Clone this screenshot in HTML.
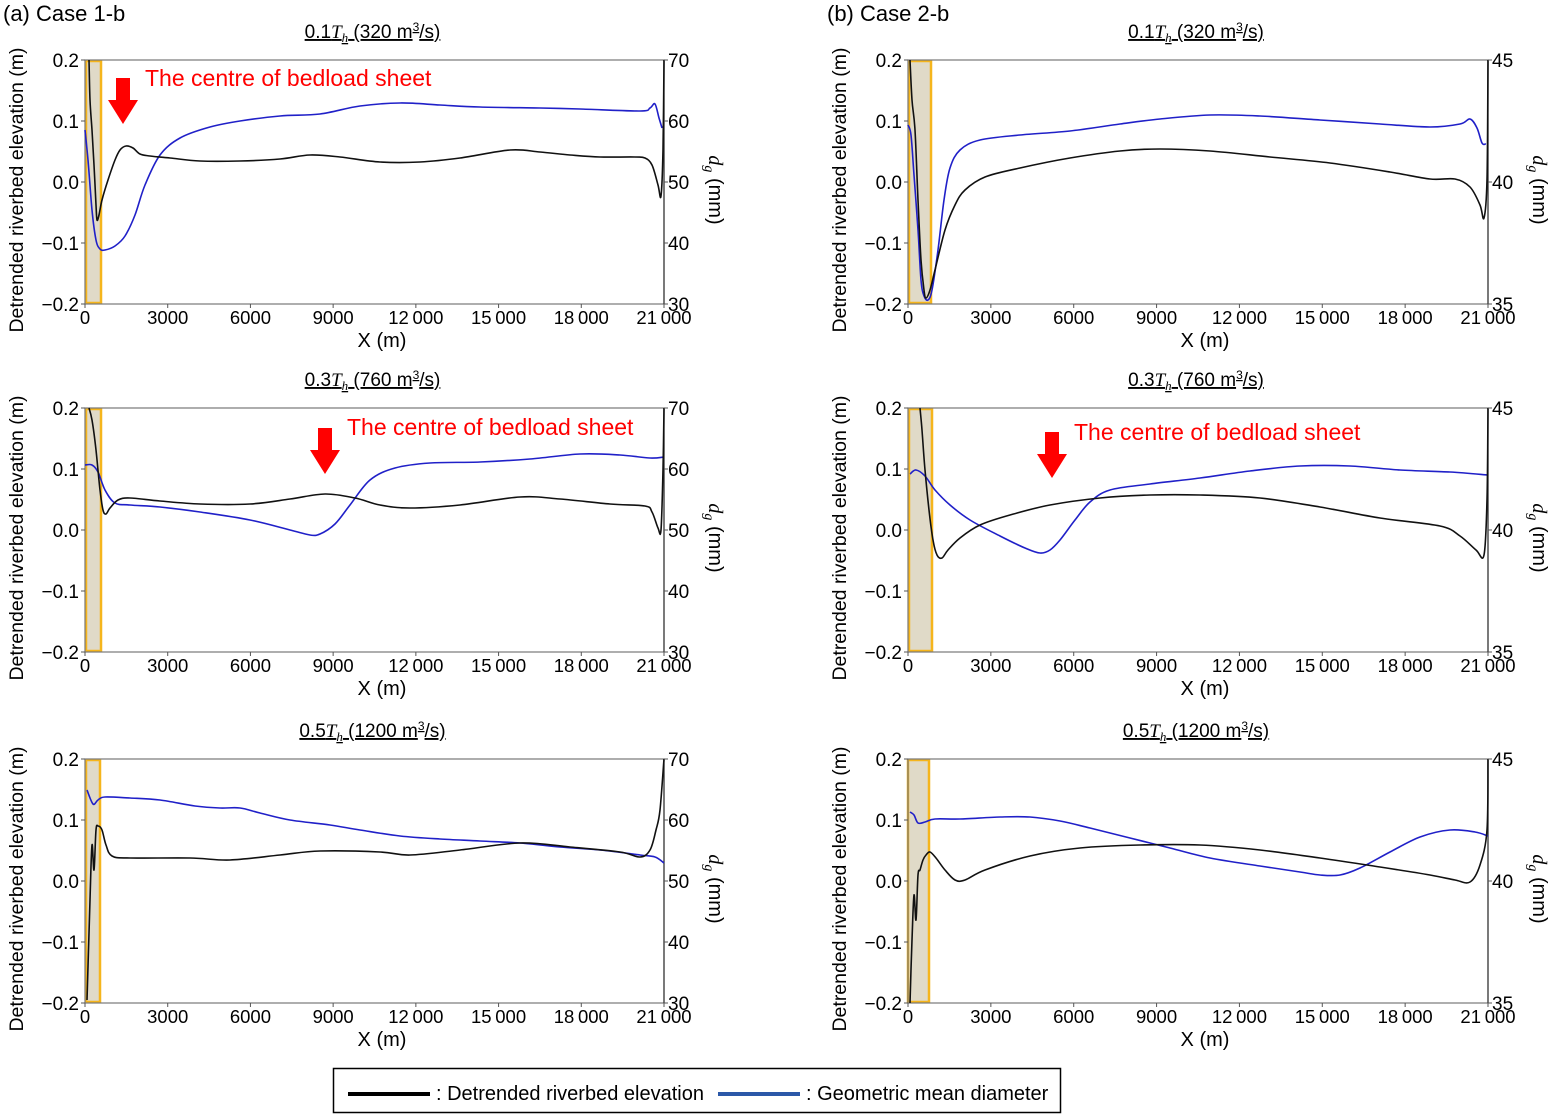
<!DOCTYPE html>
<html><head><meta charset="utf-8"><style>
html,body{margin:0;padding:0;background:#fff;}
svg{display:block;font-family:"Liberation Sans",Arial,sans-serif;}
</style></head><body>
<svg id="s" width="1552" height="1117" viewBox="0 0 1552 1117" xmlns="http://www.w3.org/2000/svg">
<text x="3" y="21" font-size="22">(a) Case 1-b</text>
<text x="827" y="21" font-size="22">(b) Case 2-b</text>
</svg>
<script>
var s=document.getElementById('s');var h='';
var panels=[
 {x0:85,x1:664,y0:60,y1:304,L:1,title:'0.1',q:'320',rect:[86,101],
  k:[[89,60],[90,100],[92,130],[94,165],[96,205],[97,220],[99,215],[102,200],[108,180],[115,160],[120,150],[126,146],[133,148],[140,154],[150,156],[170,158],[200,161],[240,161],[280,159],[310,155],[340,157],[380,162],[420,162],[460,158],[510,150],[540,152],[570,155],[600,157],[635,157],[645,158],[652,165],[658,185],[661,196],[663,150],[664,60]],
  b:[[85,130],[88,160],[92,210],[96,240],[100,249],[105,250],[115,246],[125,236],[135,215],[145,185],[160,155],[180,138],[210,127],[240,121],[280,116],[320,114],[360,106],[400,103],[440,105],[480,107],[540,108],[580,109],[640,111],[650,108],[655,104],[659,118],[662,128]],
  arrow:[123,78],ann:[145,86]},
 {x0:85,x1:664,y0:408,y1:652,L:1,title:'0.3',q:'760',rect:[86,101],
  k:[[89,408],[92,420],[96,450],[100,490],[103,510],[106,514],[110,508],[118,500],[130,498],[160,501],[200,504],[250,504],[290,499],[325,494],[355,498],[380,505],[410,508],[460,505],[520,497],[560,499],[610,504],[645,506],[652,512],[658,528],[661,530],[663,470],[664,408]],
  b:[[85,465],[92,465],[98,472],[105,490],[115,503],[130,505],[160,507],[200,512],[250,520],[290,530],[310,535],[320,534],[335,524],[350,505],[370,480],[395,468],[430,463],[480,462],[530,459],[580,454],[620,455],[650,458],[664,457]],
  arrow:[325,428],ann:[347,435]},
 {x0:85,x1:664,y0:759,y1:1003,L:1,title:'0.5',q:'1200',rect:[86,100],
  k:[[87,1000],[90,900],[92,845],[94,870],[96,830],[98,826],[102,830],[106,845],[112,856],[130,858],[190,858],[230,860],[280,855],[320,851],[380,852],[410,855],[460,850],[520,843],[570,847],[620,852],[640,857],[650,850],[656,830],[660,810],[664,759]],
  b:[[87,790],[93,804],[98,800],[105,797],[130,798],[160,800],[195,806],[220,808],[240,808],[260,813],[290,820],[330,825],[360,830],[400,836],[440,839],[480,841],[520,843],[560,847],[600,850],[640,855],[655,857],[664,863]]},
 {x0:908,x1:1488,y0:60,y1:304,L:0,title:'0.1',q:'320',rect:[909,931],
  k:[[910,60],[912,100],[915,130],[918,200],[921,260],[924,290],[926,298],[930,290],[935,270],[945,230],[955,205],[965,190],[985,177],[1020,168],[1070,158],[1120,151],[1160,149],[1210,151],[1270,157],[1330,163],[1390,172],[1430,179],[1455,179],[1470,187],[1480,205],[1484,218],[1487,180],[1488,60]],
  b:[[908,125],[911,135],[914,175],[918,230],[921,280],[924,296],[928,300],[932,290],[938,250],[944,200],[950,168],[960,150],[980,140],[1020,135],[1070,131],[1120,124],[1160,119],[1210,115],[1260,116],[1320,120],[1380,124],[1430,127],[1460,124],[1470,119],[1477,128],[1482,143],[1486,144]]},
 {x0:908,x1:1488,y0:408,y1:652,L:0,title:'0.3',q:'760',rect:[909,932],
  k:[[920,408],[922,430],[925,470],[929,510],[933,540],[937,555],[942,558],[948,550],[960,538],[980,525],[1010,515],[1050,505],[1100,498],[1150,495],[1200,495],[1260,498],[1320,507],[1380,518],[1440,526],[1460,536],[1476,550],[1484,555],[1487,500],[1488,408]],
  b:[[910,474],[916,470],[925,476],[935,490],[950,505],[970,520],[1000,536],[1025,548],[1040,553],[1050,550],[1060,540],[1075,520],[1090,502],[1110,490],[1150,484],[1200,478],[1250,471],[1300,466],[1350,466],[1400,470],[1450,472],[1488,475]],
  arrow:[1052,432],ann:[1074,440]},
 {x0:908,x1:1488,y0:759,y1:1003,L:0,title:'0.5',q:'1200',rect:[908,929],
  k:[[910,1003],[912,940],[914,895],[916,920],[918,875],[920,870],[923,860],[926,855],[930,852],[936,858],[945,870],[955,880],[965,880],[985,870],[1030,856],[1080,848],[1140,845],[1200,845],[1260,850],[1320,858],[1380,867],[1430,875],[1455,880],[1470,882],[1480,865],[1487,830],[1488,759]],
  b:[[910,812],[914,815],[918,823],[925,822],[935,819],[960,819],[1000,817],[1030,817],[1060,821],[1090,828],[1130,838],[1170,848],[1210,858],[1260,866],[1300,872],[1320,875],[1340,875],[1360,868],[1390,852],[1420,837],[1450,830],[1475,832],[1488,836]]}
];
function smooth(a){var d='M'+a[0][0]+','+a[0][1];
 for(var i=0;i<a.length-1;i++){var p0=a[i>0?i-1:0],p1=a[i],p2=a[i+1],p3=a[i+2<a.length?i+2:i+1];
  var c1x=p1[0]+(p2[0]-p0[0])/6,c1y=p1[1]+(p2[1]-p0[1])/6,c2x=p2[0]-(p3[0]-p1[0])/6,c2y=p2[1]-(p3[1]-p1[1])/6;
  d+=' C'+c1x.toFixed(1)+','+c1y.toFixed(1)+' '+c2x.toFixed(1)+','+c2y.toFixed(1)+' '+p2[0]+','+p2[1];}
 return d;}
panels.forEach(function(p){
 var w=p.x1-p.x0,H=p.y1-p.y0,cx=(p.x0+p.x1)/2;
 h+='<rect x="'+p.rect[0]+'" y="'+(p.y0+1)+'" width="'+(p.rect[1]-p.rect[0])+'" height="'+(H-2)+'" fill="#e0dac8" stroke="#f5b51c" stroke-width="2.5"/>';
 h+='<rect x="'+p.x0+'" y="'+p.y0+'" width="'+w+'" height="'+H+'" fill="none" stroke="#777" stroke-width="1.2"/>';
 h+='<line x1="'+p.x1+'" y1="'+p.y0+'" x2="'+p.x1+'" y2="'+p.y1+'" stroke="#333" stroke-width="1.2"/>';
 h+='<path d="'+smooth(p.b)+'" fill="none" stroke="#2020c8" stroke-width="1.6"/>';
 h+='<path d="'+smooth(p.k)+'" fill="none" stroke="#111" stroke-width="1.6"/>';
 var yl=['0.2','0.1','0.0','\u22120.1','\u22120.2'];
 var rl=p.L?['70','60','50','40','30']:['45','','40','','35'];
 for(var i=0;i<5;i++){var y=p.y0+H*i/4;
  h+='<line x1="'+(p.x0-4)+'" y1="'+y+'" x2="'+p.x0+'" y2="'+y+'" stroke="#555"/>';
  h+='<text x="'+(p.x0-6)+'" y="'+(y+7)+'" font-size="19" text-anchor="end">'+yl[i]+'</text>';
  if(rl[i]){h+='<line x1="'+p.x1+'" y1="'+y+'" x2="'+(p.x1+4)+'" y2="'+y+'" stroke="#555"/>';
  h+='<text x="'+(p.x1+4)+'" y="'+(y+7)+'" font-size="19">'+rl[i]+'</text>';}}
 var xl=['0','3000','6000','9000','12\u2009000','15\u2009000','18\u2009000','21\u2009000'];
 for(var i=0;i<8;i++){var x=p.x0+w*i/7;
  h+='<line x1="'+x+'" y1="'+p.y1+'" x2="'+x+'" y2="'+(p.y1+4)+'" stroke="#555"/>';
  h+='<text x="'+x+'" y="'+(p.y1+20)+'" font-size="18.5" text-anchor="middle">'+xl[i]+'</text>';}
 h+='<text x="'+(p.x0+297)+'" y="'+(p.y1+43)+'" font-size="20" text-anchor="middle">X (m)</text>';
 var ly=(p.y0+p.y1)/2+8;
 h+='<text transform="translate('+(p.x0-62)+','+ly+') rotate(-90)" font-size="19.5" text-anchor="middle">Detrended riverbed elevation (m)</text>';
 h+='<text transform="translate('+(p.x1+45)+','+ly+') rotate(90)" font-size="20" text-anchor="middle"><tspan font-family="Liberation Serif,serif" font-style="italic">d</tspan><tspan font-family="Liberation Serif,serif" font-style="italic" font-size="14" dy="4">g</tspan><tspan dy="-4"> (mm)</tspan></text>';
 var tx=cx-2,ty=p.y0-22;
 h+='<text x="'+tx+'" y="'+ty+'" font-size="19" text-anchor="middle" text-decoration="underline">'+p.title+'<tspan font-family="Liberation Serif,serif" font-style="italic">T</tspan><tspan font-family="Liberation Serif,serif" font-style="italic" font-size="13" dy="4">h</tspan><tspan dy="-4"> ('+p.q+' m</tspan><tspan font-size="12" dy="-7">3</tspan><tspan dy="7">/s)</tspan></text>';
 if(p.arrow){var a=p.arrow;
  h+='<polygon points="'+(a[0]-7)+','+a[1]+' '+(a[0]+7)+','+a[1]+' '+(a[0]+7)+','+(a[1]+22)+' '+(a[0]+15)+','+(a[1]+22)+' '+a[0]+','+(a[1]+46)+' '+(a[0]-15)+','+(a[1]+22)+' '+(a[0]-7)+','+(a[1]+22)+'" fill="#ff0000"/>';
  h+='<text x="'+p.ann[0]+'" y="'+p.ann[1]+'" font-size="23" fill="#ff0000">The centre of bedload sheet</text>';}
});
h+='<rect x="333.5" y="1068.5" width="727" height="44" fill="#fff" stroke="#000" stroke-width="1.5"/>';
h+='<line x1="348" y1="1094" x2="430" y2="1094" stroke="#000" stroke-width="4"/>';
h+='<text x="436" y="1100" font-size="20">: Detrended riverbed elevation</text>';
h+='<line x1="718" y1="1094" x2="800" y2="1094" stroke="#2b58a8" stroke-width="4"/>';
h+='<text x="806" y="1100" font-size="20">: Geometric mean diameter</text>';
s.insertAdjacentHTML('beforeend',h);
</script>
</body></html>
